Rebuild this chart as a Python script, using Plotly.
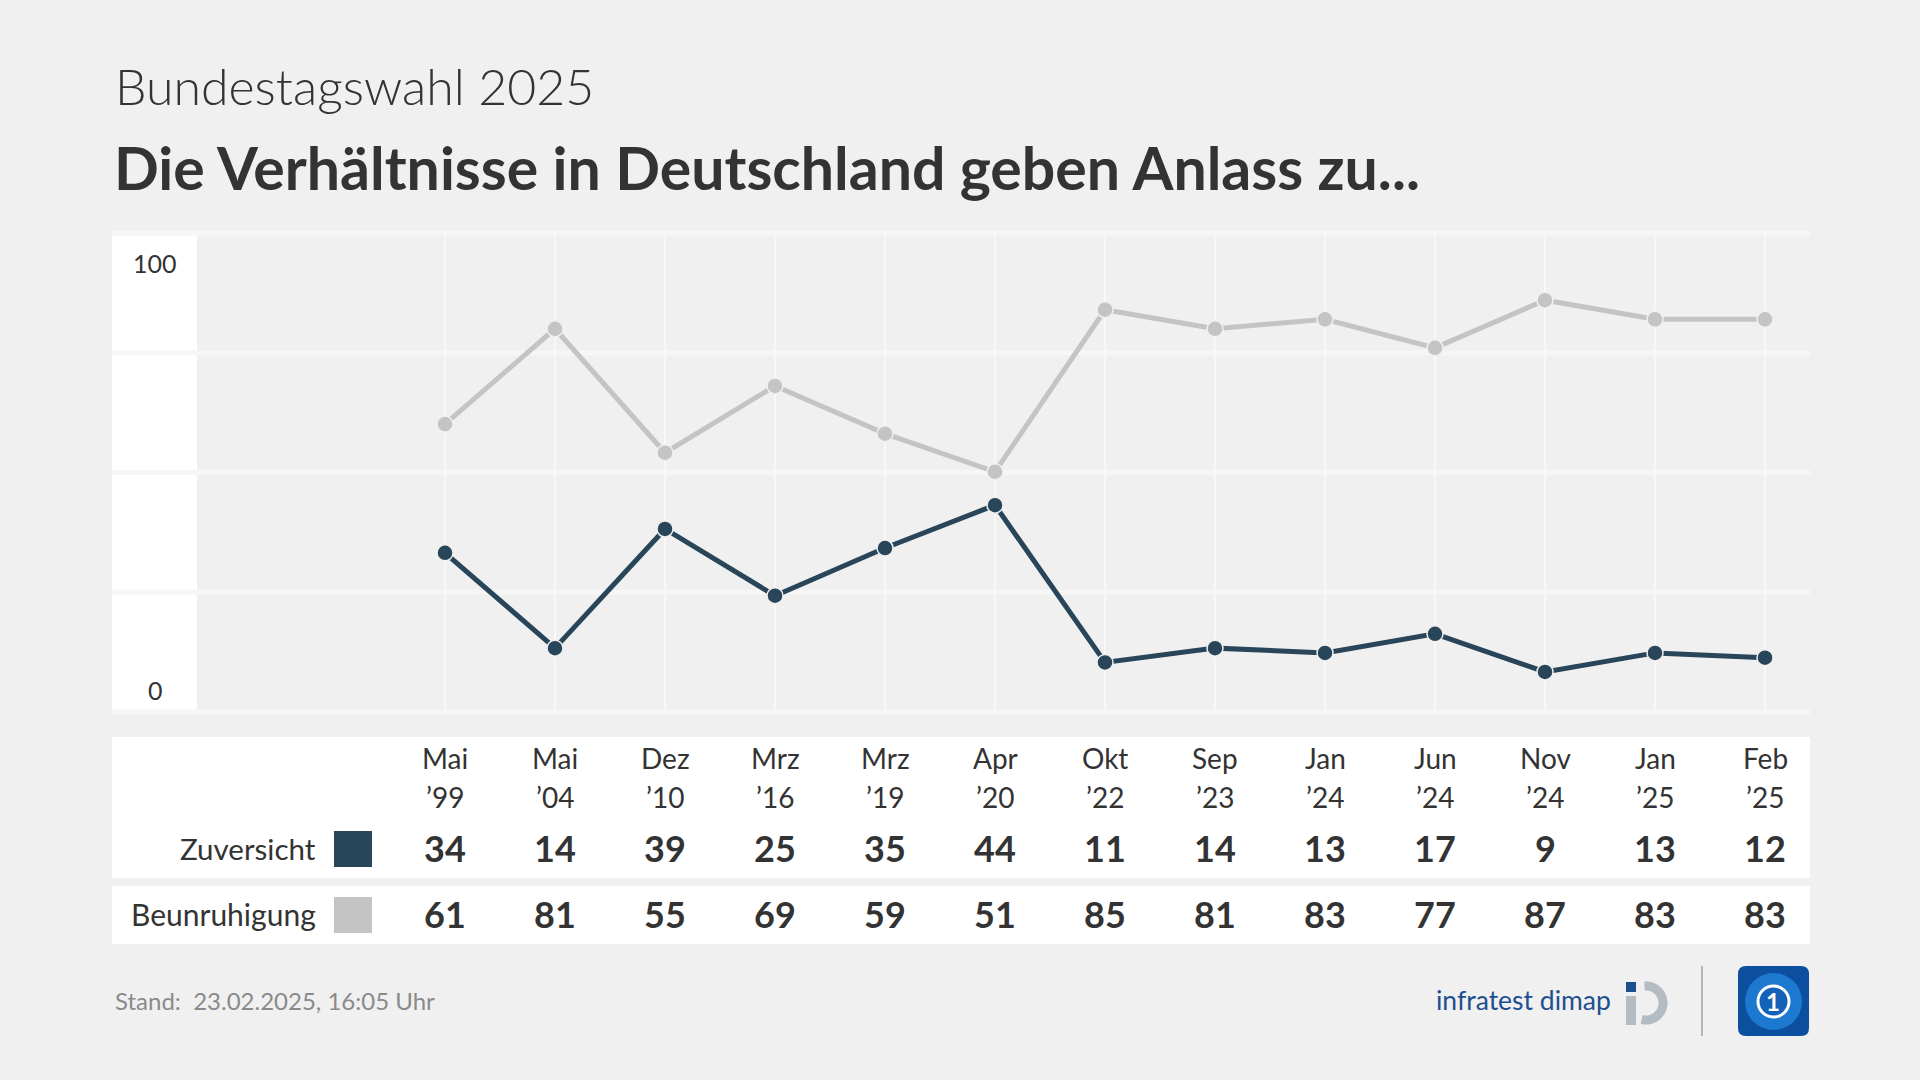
import numpy as np
import plotly.graph_objects as go

# ---------------- data ----------------
months = ["Mai", "Mai", "Dez", "Mrz", "Mrz", "Apr", "Okt", "Sep", "Jan", "Jun", "Nov", "Jan", "Feb"]
years = ["’99", "’04", "’10", "’16", "’19", "’20", "’22", "’23", "’24", "’24", "’24", "’25", "’25"]
zuversicht = [34, 14, 39, 25, 35, 44, 11, 14, 13, 17, 9, 13, 12]
beunruhigung = [61, 81, 55, 69, 59, 51, 85, 81, 83, 77, 87, 83, 83]
series_names = ["Zuversicht", "Beunruhigung"]
y_labels = ["0", "100"]

# ---------------- style ----------------
W, H = 1920, 1080
BG = "#f0f0f0"
NAVY = "#29455a"
GREY = "#c4c4c4"
TXT = "#333333"
FONT = "Lato, 'Noto Sans', sans-serif"

def X(px):
    return px / W

def Y(py):
    return 1 - py / H

xi = list(range(len(months)))

fig = go.Figure()
fig.add_trace(go.Scatter(
    x=xi, y=beunruhigung, mode="lines+markers", name=series_names[1],
    line=dict(color=GREY, width=5),
    marker=dict(size=16, color=GREY, line=dict(color=BG, width=1.5)),
    hoverinfo="skip"))
fig.add_trace(go.Scatter(
    x=xi, y=zuversicht, mode="lines+markers", name=series_names[0],
    line=dict(color=NAVY, width=5),
    marker=dict(size=16, color=NAVY, line=dict(color=BG, width=1.5)),
    hoverinfo="skip"))

plot_l, plot_r = 112, 1810
plot_b, plot_t = 712, 233
first_x, step = 445, 110
x_lo = -(first_x - plot_l) / step
x_hi = (len(xi) - 1) + (plot_r - (first_x + step * (len(xi) - 1))) / step

fig.update_layout(
    width=W, height=H,
    margin=dict(l=0, r=0, t=0, b=0),
    paper_bgcolor=BG, plot_bgcolor=BG,
    showlegend=False,
    font=dict(family=FONT, color=TXT),
    xaxis=dict(range=[x_lo, x_hi], domain=[X(plot_l), X(plot_r)],
               tickvals=xi, showticklabels=False, showgrid=True,
               gridcolor="#f8f8f8", gridwidth=2, zeroline=False,
               showline=False, fixedrange=True),
    yaxis=dict(range=[0.6, 101.1], domain=[Y(plot_b), Y(plot_t)],
               showgrid=False, showticklabels=False, zeroline=False,
               showline=False, fixedrange=True),
)

shapes = []
# white y-label column
shapes.append(dict(type="rect", xref="paper", yref="y domain", x0=X(112), x1=X(197),
                   y0=0, y1=1, fillcolor="white", line=dict(width=0), layer="below"))
# horizontal stripes
for f in [0, 0.25, 0.5, 0.75, 1.0]:
    shapes.append(dict(type="line", xref="x domain", yref="y domain", x0=0, x1=1, y0=f, y1=f,
                       line=dict(color="#f6f6f6", width=5), layer="below"))
# table rows
shapes.append(dict(type="rect", xref="paper", yref="paper", x0=X(112), x1=X(1810),
                   y0=Y(878), y1=Y(737), fillcolor="white", line=dict(width=0)))
shapes.append(dict(type="rect", xref="paper", yref="paper", x0=X(112), x1=X(1810),
                   y0=Y(944), y1=Y(886), fillcolor="white", line=dict(width=0)))
# legend squares
shapes.append(dict(type="rect", xref="paper", yref="paper", x0=X(334), x1=X(372),
                   y0=Y(867), y1=Y(831), fillcolor=NAVY, line=dict(width=0)))
shapes.append(dict(type="rect", xref="paper", yref="paper", x0=X(334), x1=X(372),
                   y0=Y(933), y1=Y(897), fillcolor=GREY, line=dict(width=0)))
# separator line in footer
shapes.append(dict(type="line", xref="paper", yref="paper", x0=X(1702), x1=X(1702),
                   y0=Y(1036), y1=Y(966), line=dict(color="#b5b5b5", width=2)))
# infratest dimap icon
shapes.append(dict(type="rect", xref="paper", yref="paper", x0=X(1626), x1=X(1636),
                   y0=Y(992), y1=Y(982), fillcolor="#1d4f8f", line=dict(width=0)))
shapes.append(dict(type="rect", xref="paper", yref="paper", x0=X(1626), x1=X(1636),
                   y0=Y(1025), y1=Y(996), fillcolor="#b3bcc3", line=dict(width=0)))
ang = np.linspace(np.radians(-5), np.radians(195), 40)
cx, cy, r = 1646, 1003, 17
pts = [(X(cx + r * np.sin(a)), Y(cy - r * np.cos(a))) for a in ang]
path = "M " + " L ".join(f"{px:.5f},{py:.5f}" for px, py in pts)
shapes.append(dict(type="path", xref="paper", yref="paper", path=path,
                   line=dict(color="#b3bcc3", width=9)))
# tagesschau logo
x0, x1, y0, y1, rr = 1738, 1809, 966, 1036, 8
logo = (f"M {X(x0+rr)},{Y(y0)} L {X(x1-rr)},{Y(y0)} Q {X(x1)},{Y(y0)} {X(x1)},{Y(y0+rr)} "
        f"L {X(x1)},{Y(y1-rr)} Q {X(x1)},{Y(y1)} {X(x1-rr)},{Y(y1)} L {X(x0+rr)},{Y(y1)} "
        f"Q {X(x0)},{Y(y1)} {X(x0)},{Y(y1-rr)} L {X(x0)},{Y(y0+rr)} Q {X(x0)},{Y(y0)} {X(x0+rr)},{Y(y0)} Z")
shapes.append(dict(type="path", xref="paper", yref="paper", path=logo,
                   fillcolor="#0b4f9e", line=dict(width=0)))
shapes.append(dict(type="circle", xref="paper", yref="paper", x0=X(1745), x1=X(1802),
                   y0=Y(1030), y1=Y(973), fillcolor="#1d78d0", line=dict(width=0)))
shapes.append(dict(type="circle", xref="paper", yref="paper", x0=X(1758), x1=X(1789),
                   y0=Y(1017), y1=Y(986), fillcolor="#1462b8", line=dict(color="white", width=3)))
fig.update_layout(shapes=shapes)

ann = []
def txt(x, y, t, size, color=TXT, xanchor="center", xref="paper", weight=400, yref="paper"):
    ann.append(dict(x=x, y=y, xref=xref, yref=yref, text=t, showarrow=False,
                    xanchor=xanchor, yanchor="middle",
                    font=dict(size=size, color=color, family=FONT, weight=weight)))

# titles
txt(X(113), Y(86), "Bundestagswahl 2025", 50, xanchor="left", weight=300)
txt(X(112), Y(167), "Die Verhältnisse in Deutschland geben Anlass zu...", 59,
    xanchor="left", weight=700)
# y labels
txt(X(155), Y(263), y_labels[1], 25)
txt(X(155), Y(690), y_labels[0], 25)
# table
for i in xi:
    txt(i, Y(758), months[i], 28, xref="x")
    txt(i, Y(797), years[i], 28, xref="x")
    txt(i, Y(848), str(zuversicht[i]), 36, xref="x", weight=700)
    txt(i, Y(914), str(beunruhigung[i]), 36, xref="x", weight=700)
txt(X(318), Y(848), series_names[0], 29.5, xanchor="right")
txt(X(318), Y(914), series_names[1], 30, xanchor="right")
# footer
txt(X(113), Y(1000), "Stand:\u00a0 23.02.2025, 16:05 Uhr", 24, color="#8a8a8a", xanchor="left")
txt(X(1434), Y(1000), "infratest dimap", 26.5, color="#1d4f8f", xanchor="left")
txt(X(1773), Y(1001), "1", 24, color="white", weight=700)
fig.update_layout(annotations=ann)

fig.write_html("out.html", config={"displayModeBar": False},
               post_script="document.body.style.margin='0';document.body.style.overflow='hidden';")
